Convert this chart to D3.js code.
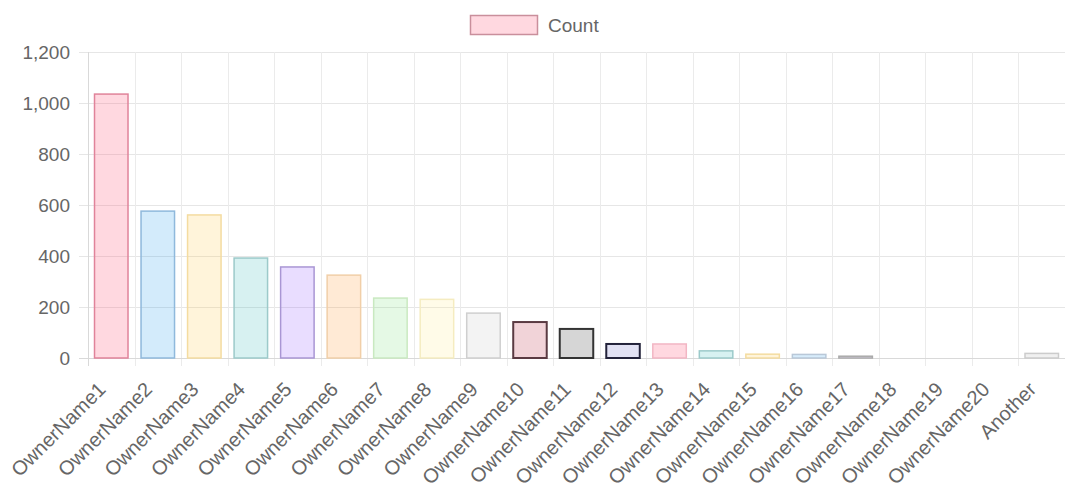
<!DOCTYPE html>
<html>
<head>
<meta charset="utf-8">
<script src="https://cdn.jsdelivr.net/npm/d3@7"></script>
<style>
  body { margin: 0; background: #fff; }
  svg text { font-family: "Liberation Sans", Arial, sans-serif; fill: #666; }
</style>
</head>
<body>
<div id="chart"></div>
<script>
// data
const categories = ["OwnerName1", "OwnerName2", "OwnerName3", "OwnerName4", "OwnerName5",
    "OwnerName6", "OwnerName7", "OwnerName8", "OwnerName9", "OwnerName10", "OwnerName11",
    "OwnerName12", "OwnerName13", "OwnerName14", "OwnerName15", "OwnerName16", "OwnerName17",
    "OwnerName18", "OwnerName19", "OwnerName20", "Another"];
const counts = [1035, 576, 561, 392, 357, 325, 235, 230, 176, 141, 114, 55, 55, 28, 15, 14, 7, 0, 0, 0, 18];
const yTicks = [0, 200, 400, 600, 800, 1000, 1200];
const seriesName = "Count";

const fills = [
    "rgba(255,99,132,0.25)", "rgba(54,162,235,0.22)", "rgba(255,206,86,0.22)", "rgba(75,192,192,0.22)",
    "rgba(153,102,255,0.22)", "rgba(255,159,64,0.22)", "rgba(110,220,110,0.18)", "rgba(255,235,140,0.2)",
    "rgba(200,200,200,0.22)", "rgba(200,80,100,0.25)", "rgba(90,90,90,0.25)", "rgba(120,120,200,0.22)",
    "rgba(255,99,132,0.25)", "rgba(75,192,192,0.22)", "rgba(255,206,86,0.22)", "rgba(54,162,235,0.2)",
    "rgba(153,102,255,0.2)", "rgba(255,159,64,0.2)", "rgba(75,192,192,0.2)", "rgba(200,200,200,0.2)",
    "rgba(180,180,180,0.2)"];
const borders = [
    "#e0839a", "#8fb9dc", "#f4dca0", "#9ccaca", "#a996d4", "#f1cfa8", "#c9e9c0", "#f5ecc0",
    "#cfcfcf", "#5a3a42", "#333333", "#22223a", "#f2b6c4", "#9ccaca", "#f4dca0", "#b9c8d8",
    "#aaaaaa", "#dddddd", "#dddddd", "#dddddd", "#cccccc"];

var margin = {top: 52, right: 0, bottom: 133, left: 88},
    width = 1065 - margin.left - margin.right,
    height = 491 - margin.top - margin.bottom;

var svg = d3.select("#chart").append("svg")
    .attr("width", 1065)
    .attr("height", 491);

var g = svg.append("g")
    .attr("transform", "translate(" + margin.left + "," + margin.top + ")");

var x = d3.scaleBand().domain(categories).range([0, width]);
var y = d3.scaleLinear().domain([0, 1200]).range([height, 0]);

// horizontal grid + y ticks
g.append("g")
    .attr("class", "y axis")
    .call(d3.axisLeft(y).tickValues(yTicks).tickSize(-width).tickPadding(18)
        .tickFormat(d3.format(",")))
    .call(ax => ax.select(".domain").remove())
    .call(ax => ax.selectAll("line").attr("stroke", "#e6e6e6"))
    .call(ax => ax.selectAll("text").attr("fill", "#666").style("font-size", "19px"));

// little tick marks left of the axis
g.append("g").selectAll("line")
    .data(yTicks)
    .join("line")
    .attr("x1", -9).attr("x2", 0)
    .attr("y1", d => y(d) + 0.5).attr("y2", d => y(d) + 0.5)
    .attr("stroke", "#e6e6e6");

// vertical grid on category edges
g.append("g").selectAll("line")
    .data(categories)
    .join("line")
    .attr("x1", d => Math.round(x(d)) + 0.5)
    .attr("x2", d => Math.round(x(d)) + 0.5)
    .attr("y1", 0).attr("y2", height + 8)
    .attr("stroke", (d, i) => i === 0 ? "#d9d9d9" : "#ebebeb");

// baseline
g.append("line")
    .attr("x1", -9).attr("x2", width)
    .attr("y1", height + 0.5).attr("y2", height + 0.5)
    .attr("stroke", "#d9d9d9");

// bars
var bw = x.bandwidth() * 0.72;
g.append("g").selectAll("rect")
    .data(counts)
    .join("rect")
    .attr("x", (d, i) => x(categories[i]) + (x.bandwidth() - bw) / 2)
    .attr("y", d => y(d))
    .attr("width", bw)
    .attr("height", d => height - y(d))
    .attr("fill", (d, i) => fills[i])
    .attr("stroke", (d, i) => borders[i])
    .attr("stroke-width", (d, i) => (i >= 9 && i <= 11) ? 2 : 1.5);

// x labels, rotated like chart.js does
g.append("g").selectAll("text")
    .data(categories)
    .join("text")
    .attr("transform", d => "translate(" + (x(d) + x.bandwidth() / 2 - 15) + "," + (height + 22) + ") rotate(-45)")
    .attr("text-anchor", "end")
    .attr("dy", "0.75em")
    .style("font-size", "20px")
    .text(d => d);

// legend
var legend = svg.append("g").attr("transform", "translate(470,15)");
legend.append("rect")
    .attr("x", 0.5).attr("y", 0.5)
    .attr("width", 67).attr("height", 19)
    .attr("fill", fills[0])
    .attr("stroke", "#c98f9c")
    .attr("stroke-width", 1.5);
legend.append("text")
    .attr("x", 78).attr("y", 10)
    .attr("dy", "0.35em")
    .style("font-size", "19px")
    .text(seriesName);
</script>
</body>
</html>
